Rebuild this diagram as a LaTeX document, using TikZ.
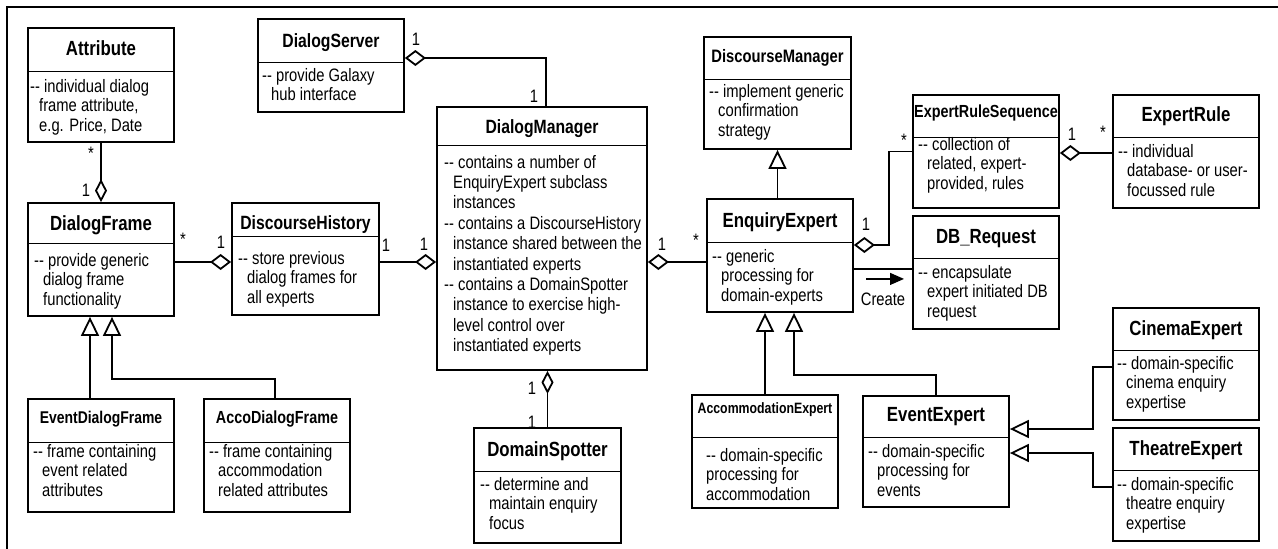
\documentclass[tikz,border=0pt]{standalone}
\usepackage{fontspec}
\setmainfont{Liberation Sans}[FakeStretch=0.82]
\usetikzlibrary{arrows.meta}
\usetikzlibrary{calc}
\newcommand{\dashes}{\strut-{}-\ }
\newcommand{\ind}{\hspace*{9pt}}

\begin{document}
\begin{tikzpicture}[x=1pt,y=1pt,yscale=-1,xscale=1,
  classbox/.style={draw, line width=1.8pt, inner sep=0pt},
  divider/.style={line width=1pt},
  ctitle/.style={font=\fontsize{20.5}{22}\selectfont\bfseries, inner sep=0pt, anchor=base},
  cbody/.style={font=\fontsize{18}{19.5}\selectfont, align=left, inner sep=0pt, anchor=north west},
  mult/.style={font=\fontsize{18}{20}\selectfont, inner sep=0pt},
  aggrh/.style={line width=1.8pt, -{Diamond[open, length=21pt, width=16pt]}},
  aggrv/.style={line width=1.8pt, -{Diamond[open, length=23pt, width=12pt]}},
  inherit/.style={line width=1.8pt, -{Triangle[open, length=19pt, width=18pt]}},
  assoc/.style={line width=1.8pt},
  createarr/.style={line width=1.2pt, -{Triangle[length=14pt, width=12pt]}}]
\useasboundingbox (0,0) rectangle (1278,549);

%Frame
\draw [line width=1.8pt] (7,549) -- (7,7) -- (1278,7) ;

%Shape: Class boxes
\node [classbox, minimum width=146pt, minimum height=114pt] (attr) at (101,85) {};
\node [classbox, minimum width=146pt, minimum height=93pt] (dserver) at (331,65.5) {};
\node [classbox, minimum width=146pt, minimum height=113pt] (dframe) at (101,259.5) {};
\node [classbox, minimum width=147pt, minimum height=112pt] (dhist) at (305.5,259) {};
\node [classbox, minimum width=210pt, minimum height=263pt] (dmgr) at (542,238.5) {};
\node [classbox, minimum width=147pt, minimum height=112pt] (dsmgr) at (777.5,93) {};
\node [classbox, minimum width=146pt, minimum height=113pt] (enq) at (780,255.5) {};
\node [classbox, minimum width=146pt, minimum height=113pt] (ers) at (986,151.5) {};
\node [classbox, minimum width=146pt, minimum height=113pt] (erule) at (1186,151.5) {};
\node [classbox, minimum width=146pt, minimum height=113pt] (dbreq) at (986,272.5) {};
\node [classbox, minimum width=146pt, minimum height=112pt] (cinema) at (1186,364) {};
\node [classbox, minimum width=146pt, minimum height=113pt] (theatre) at (1186,484.5) {};
\node [classbox, minimum width=146pt, minimum height=111pt] (event) at (936,451.5) {};
\node [classbox, minimum width=146pt, minimum height=113pt] (accom) at (765,451.5) {};
\node [classbox, minimum width=147pt, minimum height=115pt] (dspot) at (547.5,485.5) {};
\node [classbox, minimum width=146pt, minimum height=113pt] (edframe) at (101,455.5) {};
\node [classbox, minimum width=146pt, minimum height=113pt] (adframe) at (277,455.5) {};

%Straight Lines: dividers
\draw [divider] (28,71) -- (174,71) ;
\draw [divider] (258,62) -- (404,62) ;
\draw [divider] (28,243) -- (174,243) ;
\draw [divider] (232,236) -- (379,236) ;
\draw [divider] (437,145) -- (647,145) ;
\draw [divider] (704,79) -- (851,79) ;
\draw [divider] (707,242) -- (853,242) ;
\draw [divider] (913,137) -- (1059,137) ;
\draw [divider] (1113,137) -- (1259,137) ;
\draw [divider] (913,258) -- (1059,258) ;
\draw [divider] (1113,350) -- (1259,350) ;
\draw [divider] (1113,470) -- (1259,470) ;
\draw [divider] (863,437) -- (1009,437) ;
\draw [divider] (692,437) -- (838,437) ;
\draw [divider] (474,471) -- (621,471) ;
\draw [divider] (28,442) -- (174,442) ;
\draw [divider] (204,442) -- (350,442) ;

% Text Node: titles
\node [ctitle] (attr-t) at (101,55) {Attribute};
\node [ctitle, font=\fontsize{19.2}{21}\selectfont\bfseries] (dserver-t) at (331,47) {DialogServer};
\node [ctitle] (dframe-t) at (101,230) {DialogFrame};
\node [ctitle, font=\fontsize{19.2}{21}\selectfont\bfseries] (dhist-t) at (305.5,229) {DiscourseHistory};
\node [ctitle, font=\fontsize{19.2}{21}\selectfont\bfseries] (dmgr-t) at (542,133) {DialogManager};
\node [ctitle, font=\fontsize{18}{20}\selectfont\bfseries] (dsmgr-t) at (777.5,62) {DiscourseManager};
\node [ctitle] (enq-t) at (780,227) {EnquiryExpert};
\node [ctitle, font=\fontsize{17.5}{19}\selectfont\bfseries] (ers-t) at (986,117) {ExpertRuleSequence};
\node [ctitle] (erule-t) at (1186,121) {ExpertRule};
\node [ctitle] (dbreq-t) at (986,243) {DB\_Request};
\node [ctitle] (cinema-t) at (1186,335) {CinemaExpert};
\node [ctitle] (theatre-t) at (1186,455) {TheatreExpert};
\node [ctitle] (event-t) at (936,421) {EventExpert};
\node [ctitle, font=\fontsize{15}{17}\selectfont\bfseries] (accom-t) at (765,413) {AccommodationExpert};
\node [ctitle] (dspot-t) at (547.5,456) {DomainSpotter};
\node [ctitle, font=\fontsize{17}{19}\selectfont\bfseries] (edframe-t) at (101,423.5) {EventDialogFrame};
\node [ctitle, font=\fontsize{17.5}{19}\selectfont\bfseries] (adframe-t) at (277,423.5) {AccoDialogFrame};

% Text Node: bodies
\node [cbody] (attr-b) at (30,78.4) {\dashes individual dialog\\\ind frame attribute,\\\ind e.g. Price, Date};
\node [cbody] (dserver-b) at (262,67.4) {\dashes provide Galaxy\\\ind hub interface};
\node [cbody] (dframe-b) at (34,252.4) {\dashes provide generic\\\ind dialog frame\\\ind functionality};
\node [cbody] (dhist-b) at (238,250.4) {\dashes store previous\\\ind dialog frames for\\\ind all experts};
\node [cbody, font=\fontsize{18}{20.4}\selectfont] (dmgr-b) at (444,153.7) {\dashes contains a number of\\\ind EnquiryExpert subclass\\\ind instances\\\dashes contains a DiscourseHistory\\\ind instance shared between the\\\ind instantiated experts\\\dashes contains a DomainSpotter\\\ind instance to exercise high-\\\ind level control over\\\ind instantiated experts};
\node [cbody] (dsmgr-b) at (709,83.4) {\dashes implement generic\\\ind confirmation\\\ind strategy};
\node [cbody] (enq-b) at (712,248.4) {\dashes generic\\\ind processing for\\\ind domain-experts};
\node [cbody] (ers-b) at (918,136.4) {\dashes collection of\\\ind related, expert-\\\ind provided, rules};
\node [cbody] (erule-b) at (1118,143.4) {\dashes individual\\\ind database- or user-\\\ind focussed rule};
\node [cbody] (dbreq-b) at (918,264.4) {\dashes encapsulate\\\ind expert initiated DB\\\ind request};
\node [cbody] (cinema-b) at (1117,355.4) {\dashes domain-specific\\\ind cinema enquiry\\\ind expertise};
\node [cbody] (theatre-b) at (1117,476.4) {\dashes domain-specific\\\ind theatre enquiry\\\ind expertise};
\node [cbody] (event-b) at (868,443.4) {\dashes domain-specific\\\ind processing for\\\ind events};
\node [cbody] (accom-b) at (706,447.4) {\dashes domain-specific\\processing for\\accommodation};
\node [cbody] (dspot-b) at (480,476.4) {\dashes determine and\\\ind maintain enquiry\\\ind focus};
\node [cbody] (edframe-b) at (33,443.4) {\dashes frame containing\\\ind event related\\\ind attributes};
\node [cbody] (adframe-b) at (209,443.4) {\dashes frame containing\\\ind accommodation\\\ind related attributes};

%Connectors: aggregation
\draw [aggrv] (attr.south) -- (dframe.north) ;
\draw [aggrh] ($(dmgr.north)+(4,0)$) |- ($(dserver.east)+(0,-7.5)$) ;
\draw [aggrh] ($(dframe.east)+(0,2.5)$) -- ($(dhist.west)+(0,3)$) ;
\draw [aggrh] ($(dhist.east)+(0,3)$) -- ($(dmgr.west)+(0,23.5)$) ;
\draw [aggrh] ($(enq.west)+(0,6.5)$) -- ($(dmgr.east)+(0,23.5)$) ;
\draw [aggrh] (ers.west) -| ($(enq.east)+(35,-10.5)$) -- ($(enq.east)+(0,-10.5)$) ;
\draw [aggrh] ($(erule.west)+(0,1.5)$) -- ($(ers.east)+(0,1.5)$) ;
\draw [aggrv] (dspot.north) -- (dmgr.south -| dspot.north) ;

%Connectors: generalisation
\draw [inherit] (enq.north -| dsmgr.south) -- (dsmgr.south) ;
\draw [inherit] (accom.north) -- (accom.north |- enq.south) ;
\draw [inherit] (event.north) |- ($(enq.south)+(14,62)$) -- ($(enq.south)+(14,0)$) ;
\draw [inherit] ($(cinema.west)+(0,3)$) -| ($(event.east)+(83,-22.5)$) -- ($(event.east)+(0,-22.5)$) ;
\draw [inherit] ($(theatre.west)+(0,2.5)$) -| ($(event.east)+(83,1.5)$) -- ($(event.east)+(0,1.5)$) ;
\draw [inherit] ($(edframe.north)+(-11,0)$) -- ($(dframe.south)+(-11,0)$) ;
\draw [inherit] ($(adframe.north)+(-2,0)$) |- ($(dframe.south)+(11,62)$) -- ($(dframe.south)+(11,0)$) ;

%Connector: association with Create
\draw [assoc] ($(enq.east)+(0,13.5)$) -- ($(dbreq.west)+(0,-3.5)$) ;
\node [mult] (create) at (883,299) {Create};
\draw [createarr] ($(create.north)+(-17,-13.5)$) -- ++(38,0) ;

% Text Node: multiplicities
\node [mult] (m-attr) at (91,153) {*};
\node [mult] (m-dframe) at (86,190) {1};
\node [mult] (m-dserver) at (416,39) {1};
\node [mult] (m-dmgrtop) at (534,96) {1};
\node [mult] (m-dframer) at (183,239) {*};
\node [mult] (m-dhistl) at (221,242) {1};
\node [mult] (m-dhistr) at (386,245) {1};
\node [mult] (m-dmgrl) at (424,244) {1};
\node [mult] (m-dmgrr) at (662,244) {1};
\node [mult] (m-enql) at (696,240) {*};
\node [mult] (m-enqr) at (866,224) {1};
\node [mult] (m-ersl) at (904,140) {*};
\node [mult] (m-ersr) at (1072,134) {1};
\node [mult] (m-erule) at (1103,132) {*};
\node [mult] (m-dmgrb) at (532,388) {1};
\node [mult] (m-dspot) at (532,422) {1};

\end{tikzpicture}
\end{document}
